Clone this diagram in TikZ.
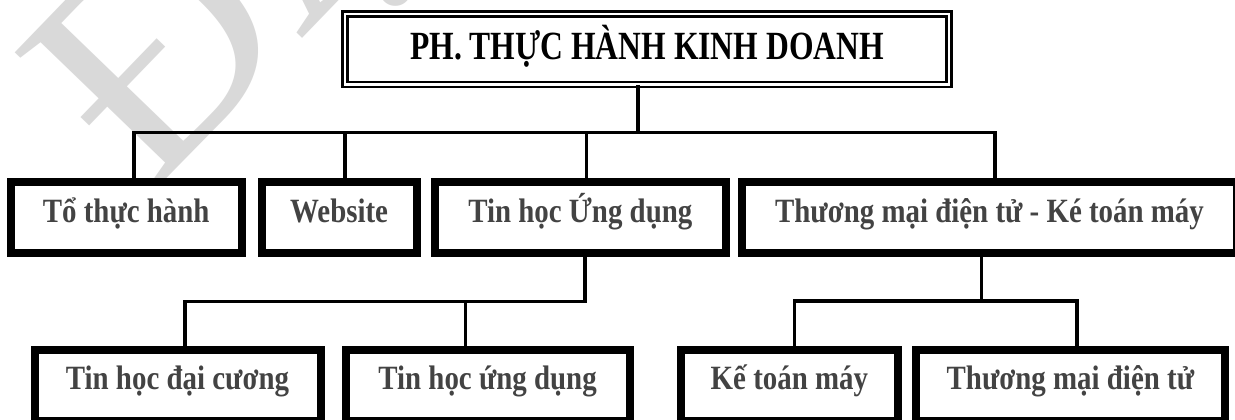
\documentclass[tikz,border=0pt]{standalone}
\usepackage{fontspec}
\setmainfont{Liberation Serif}
\newfontfamily\titlefont{Liberation Serif}[FakeStretch=0.79]
\newfontfamily\boxfont{Liberation Serif}[FakeStretch=0.85]
\definecolor{txtgray}{HTML}{434343}
\definecolor{wmgray}{HTML}{D9D9D9}
\begin{document}
\begin{tikzpicture}[x=0.75pt,y=-0.75pt,
  box/.style={draw, line width=6pt, fill=white, inner sep=0pt,
    font=\boxfont\bfseries\fontsize{25.5}{30}\selectfont, text=txtgray,
    text height=12pt, text depth=4pt},
  rowtwo/.style={box, text height=10pt, text depth=4.5pt},
  titlebox/.style={draw, double, line width=1.7pt, double distance=2pt, inner sep=0pt,
    font=\titlefont\bfseries\fontsize{30}{34}\selectfont, text=black,
    text height=19pt, text depth=3.8pt},
  conn/.style={line width=2.5pt},
  wm/.style={text=wmgray, font=\fontsize{225}{225}\selectfont, inner sep=0pt}]
\useasboundingbox (0,0) rectangle (1235,419);
\clip (0,0) rectangle (1235,419);
\fill[white] (0,0) rectangle (1235,419);
% watermark
\node[wm, rotate=46, anchor=base west] (wmark) at (150,196) {ĐẠI};
% title
\node[titlebox, minimum width=453pt, minimum height=52.7pt] (top) at (647,49.15) {PH. THỰC HÀNH KINH DOANH};
% row 1
\node[box, minimum width=173.2pt, minimum height=53.85pt] (b1) at (126.25,217.4) {Tổ thực hành};
\node[box, minimum width=116.4pt, minimum height=53.85pt] (b2) at (339.1,217.4) {Website};
\node[box, minimum width=218.5pt, minimum height=53.85pt] (b3) at (580.35,217.4) {Tin học Ứng dụng};
\node[box, minimum width=371.25pt, minimum height=53.85pt] (b4) at (989.5,217.4) {Thương mại điện tử - Ké toán máy};
% row 2
\node[rowtwo, minimum width=214.5pt, minimum height=53pt] (c1) at (177.5,385.35) {Tin học đại cương};
\node[rowtwo, minimum width=212.85pt, minimum height=53pt] (c2) at (487.6,385.35) {Tin học ứng dụng};
\node[rowtwo, minimum width=162.15pt, minimum height=53pt] (c3) at (789.4,385.35) {Kế toán máy};
\node[rowtwo, minimum width=231.15pt, minimum height=53pt] (c4) at (1070.4,385.35) {Thương mại điện tử};
% junctions
\coordinate (j0) at (638,132.8);
\coordinate (j1) at (134,132.8);
\coordinate (j2) at (345,132.8);
\coordinate (j3) at (586.7,132.8);
\coordinate (j4) at (995,132.8);
\coordinate (k0) at (585,301.7);
\coordinate (k1) at (185,301.7);
\coordinate (k2) at (465.7,301.7);
\coordinate (m0) at (981.7,301);
\coordinate (m1) at (794.3,301);
\coordinate (m2) at (1077,301);
% connectors
\draw[conn] (j0 |- top.south) -- (j0);
\draw[conn] (j1 |- b1.north) -- (j1) -- (j4) -- (j4 |- b4.north);
\draw[conn] (j2) -- (j2 |- b2.north);
\draw[conn] (j3) -- (j3 |- b3.north);
\draw[conn] (k1 |- c1.north) -- (k1) -- (k0) -- (k0 |- b3.south);
\draw[conn] (k2) -- (k2 |- c2.north);
\draw[conn] (m1 |- c3.north) -- (m1) -- (m2) -- (m2 |- c4.north);
\draw[conn] (m0 |- b4.south) -- (m0);
\end{tikzpicture}
\end{document}
